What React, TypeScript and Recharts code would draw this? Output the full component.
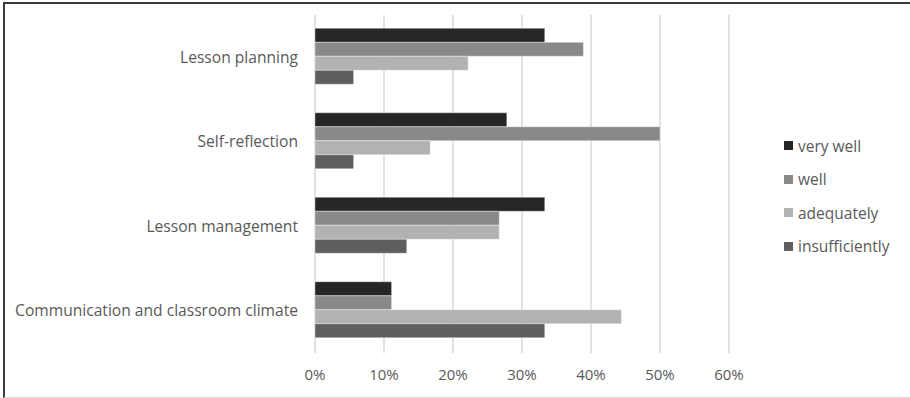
import { Bar, BarChart, CartesianGrid, Legend, XAxis, YAxis } from "recharts"

const categories = ["Lesson planning", "Self-reflection", "Lesson management", "Communication and classroom climate"]
const veryWell = [33.3, 27.8, 33.3, 11.1]
const well = [38.9, 50.0, 26.7, 11.1]
const adequately = [22.2, 16.7, 26.7, 44.4]
const insufficiently = [5.6, 5.6, 13.3, 33.3]
const xTicks = [0, 10, 20, 30, 40, 50, 60]

const series = [
  { key: "veryWell", name: "very well", color: "#262626" },
  { key: "well", name: "well", color: "#898989" },
  { key: "adequately", name: "adequately", color: "#b2b2b2" },
  { key: "insufficiently", name: "insufficiently", color: "#5f5f5f" }
]

const data = categories.map((c, i) => ({
  category: c,
  veryWell: veryWell[i],
  well: well[i],
  adequately: adequately[i],
  insufficiently: insufficiently[i]
}))

const font = "'Open Sans', sans-serif"
const textColor = "#595959"

function LegendBox() {
  return (
    <div style={{ fontFamily: font, fontSize: 15.5, color: textColor }}>
      {series.map((s) => (
        <div key={s.key} style={{ height: 33.5, display: "flex", alignItems: "center" }}>
          <span style={{ width: 9, height: 9, background: s.color, marginRight: 5, display: "inline-block" }} />
          <span>{s.name}</span>
        </div>
      ))}
    </div>
  )
}

export default function App() {
  return (
    <div style={{ position: "absolute", left: 0, top: 0, width: 910, height: 398, background: "#fff" }}>
      <BarChart
        width={910}
        height={398}
        data={data}
        layout="vertical"
        margin={{ top: 15, right: 181, bottom: 0, left: 0 }}
        barCategoryGap="15.7%"
        barGap={0}
      >
        <CartesianGrid horizontal={false} stroke="#d9d9d9" strokeWidth={1.5} />
        <XAxis
          type="number"
          domain={[0, 60]}
          ticks={xTicks}
          tickFormatter={(v) => `${v}%`}
          axisLine={false}
          tickLine={false}
          tickSize={0}
          tickMargin={16}
          height={45}
          interval={0}
          tick={{ fill: textColor, fontSize: 15, fontFamily: font }}
        />
        <YAxis
          type="category"
          dataKey="category"
          width={315}
          axisLine={false}
          tickLine={false}
          tickSize={0}
          tickMargin={17}
          interval={0}
          tick={{ fill: textColor, fontSize: 15.6, fontFamily: font }}
        />
        <Legend
          layout="vertical"
          align="center"
          verticalAlign="middle"
          wrapperStyle={{ left: 784, top: 129, width: 125 }}
          content={() => <LegendBox />}
        />
        {series.map((s) => (
          <Bar
            key={s.key}
            dataKey={s.key}
            name={s.name}
            fill={s.color}
            stroke="#ffffff"
            strokeOpacity={0.5}
            strokeWidth={0.75}
            isAnimationActive={false}
          />
        ))}
      </BarChart>
      <div
        style={{
          position: "absolute",
          left: 3,
          top: 2,
          right: 0,
          bottom: 0,
          borderTop: "2px solid #3a3a3a",
          borderLeft: "2px solid #3a3a3a",
          borderBottom: "1px solid #d9d9d9",
          pointerEvents: "none"
        }}
      />
    </div>
  )
}
